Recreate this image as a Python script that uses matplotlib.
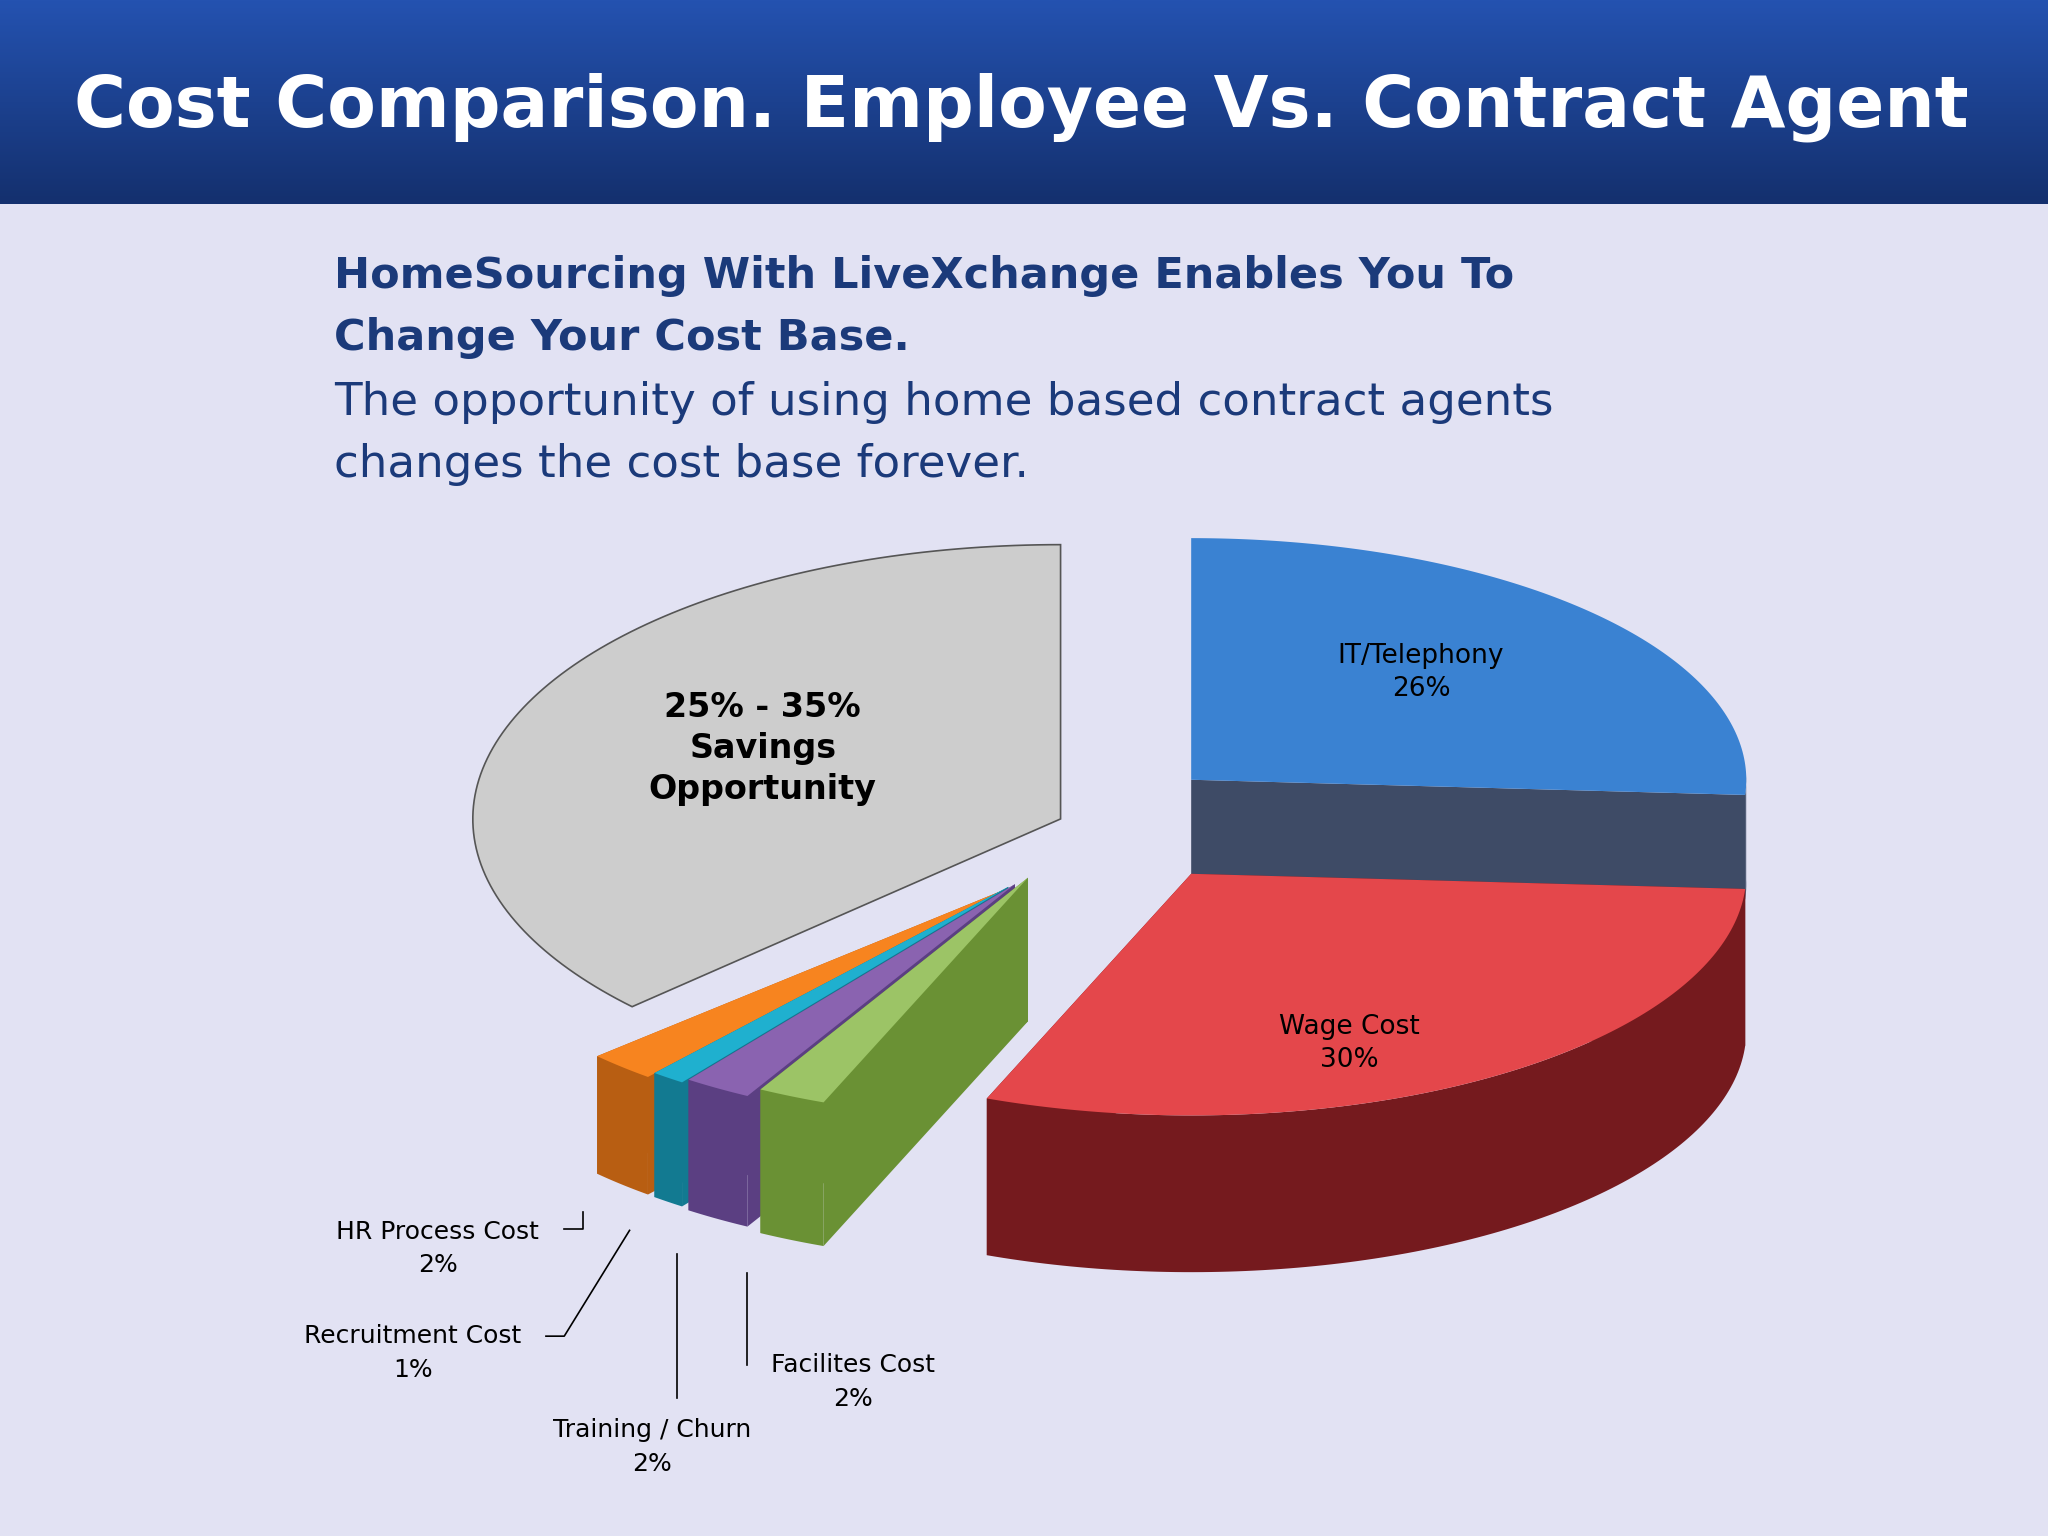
import numpy as np
import matplotlib
matplotlib.use("Agg")
import matplotlib.pyplot as plt
from matplotlib.patches import Polygon, Rectangle

categories = ["IT/Telephony", "Wage Cost", "Facilites Cost", "Training / Churn",
              "Recruitment Cost", "HR Process Cost", "Savings Opportunity"]
values = [26, 30, 2, 2, 1, 2, 37]
labels = ["IT/Telephony\n26%", "Wage Cost\n30%", "Facilites Cost\n2%", "Training / Churn\n2%",
          "Recruitment Cost\n1%", "HR Process Cost\n2%", "25% - 35%\nSavings\nOpportunity"]

top_colors = ["#3A82D2", "#E4474B", "#9CC466", "#8A63B0", "#1FB0CF", "#F7841F", "#CDCDCD"]
side_colors = ["#3E4B66", "#751A1E", "#6A9134", "#5B3F82", "#127A91", "#B85E12", "#CDCDCD"]
offsets = [(0, 0), (0, 72), (-125, 75), (-135, 80), (-140, 82), (-145, 85), (-100, 30)]
depths = [80, 120, 110, 100, 95, 90, 0]
radii = [(425, 185), (425, 185), (425, 185), (425, 185), (425, 185), (425, 185), (450, 210)]

W, H = 1568, 1176
fig = plt.figure(figsize=(20.48, 15.36), dpi=100)
ax = fig.add_axes([0, 0, 1, 1])
ax.set_xlim(0, W); ax.set_ylim(H, 0); ax.axis("off")
ax.add_patch(Rectangle((0, 0), W, H, color="#E2E2F3", zorder=0))
grad = np.linspace(0, 1, 100)[:, None]
ax.imshow(grad, extent=(0, W, 156, 0), cmap=matplotlib.colors.LinearSegmentedColormap.from_list(
    "h", ["#2452B0", "#14306E"]), aspect="auto", zorder=1)
ax.text(W / 2 - 2, 82, "Cost Comparison. Employee Vs. Contract Agent", color="white",
        fontsize=51, fontweight="bold", ha="center", va="center", zorder=2)
ax.text(256, 211, "HomeSourcing With LiveXchange Enables You To", color="#1B3A7A",
        fontsize=31, fontweight="bold", va="center", zorder=2)
ax.text(256, 259, "Change Your Cost Base.", color="#1B3A7A",
        fontsize=31, fontweight="bold", va="center", zorder=2)
ax.text(256, 308, "The opportunity of using home based contract agents", color="#1B3A7A",
        fontsize=32.5, va="center", zorder=2)
ax.text(256, 356, "changes the cost base forever.", color="#1B3A7A",
        fontsize=32.5, va="center", zorder=2)

cx, cy = 912, 597
total = sum(values)
z = 3
order = [6, 0, 5, 4, 3, 2, 1]
angles = {}
a = 90.0
for i, v in enumerate(values):
    span = 360 * v / total
    angles[i] = (a - span, a)
    a -= span

for i in order:
    t1, t2 = np.radians(angles[i][0]), np.radians(angles[i][1])
    ox, oy = offsets[i]
    rx, ry = radii[i]
    d = depths[i]
    c0 = np.array([cx + ox, cy + oy])
    t = np.linspace(t1, t2, 120)
    arc = np.column_stack([c0[0] + rx * np.cos(t), c0[1] - ry * np.sin(t)])
    if d > 0:
        for tt in (t1, t2):
            e = np.array([c0[0] + rx * np.cos(tt), c0[1] - ry * np.sin(tt)])
            ax.add_patch(Polygon([c0, e, e + [0, d], c0 + [0, d]], closed=True,
                                 fc=side_colors[i], ec="none", zorder=z)); z += 1
        mask = np.sin(t) < 0.02
        if mask.any():
            seg = arc[mask]
            poly = np.vstack([seg, (seg + [0, d])[::-1]])
            ax.add_patch(Polygon(poly, closed=True, fc=side_colors[i], ec="none", zorder=z)); z += 1
    top = np.vstack([c0, arc])
    ax.add_patch(Polygon(top, closed=True, fc=top_colors[i],
                         ec="#555555" if i == 6 else "none", lw=1.2, zorder=z)); z += 1

ax.text(1088, 515, labels[0], ha="center", va="center", fontsize=19, linespacing=1.35, zorder=50)
ax.text(1033, 799, labels[1], ha="center", va="center", fontsize=19, linespacing=1.35, zorder=50)
ax.text(584, 573, labels[6], ha="center", va="center", fontsize=24, fontweight="bold",
        linespacing=1.3, zorder=50)
ax.text(335, 956, labels[5], ha="center", va="center", fontsize=18, linespacing=1.5, zorder=50)
ax.plot([432, 446, 446], [941, 941, 928], color="black", lw=1.2, zorder=50)
ax.text(316, 1036, labels[4], ha="center", va="center", fontsize=18, linespacing=1.5, zorder=50)
ax.plot([418, 432, 482], [1023, 1023, 942], color="black", lw=1.2, zorder=50)
ax.text(499, 1108, labels[3], ha="center", va="center", fontsize=18, linespacing=1.5, zorder=50)
ax.plot([518, 518], [1070, 960], color="black", lw=1.2, zorder=50)
ax.text(653, 1058, labels[2], ha="center", va="center", fontsize=18, linespacing=1.5, zorder=50)
ax.plot([572, 572], [1045, 975], color="black", lw=1.2, zorder=50)

fig.savefig("out.png", dpi=100)
